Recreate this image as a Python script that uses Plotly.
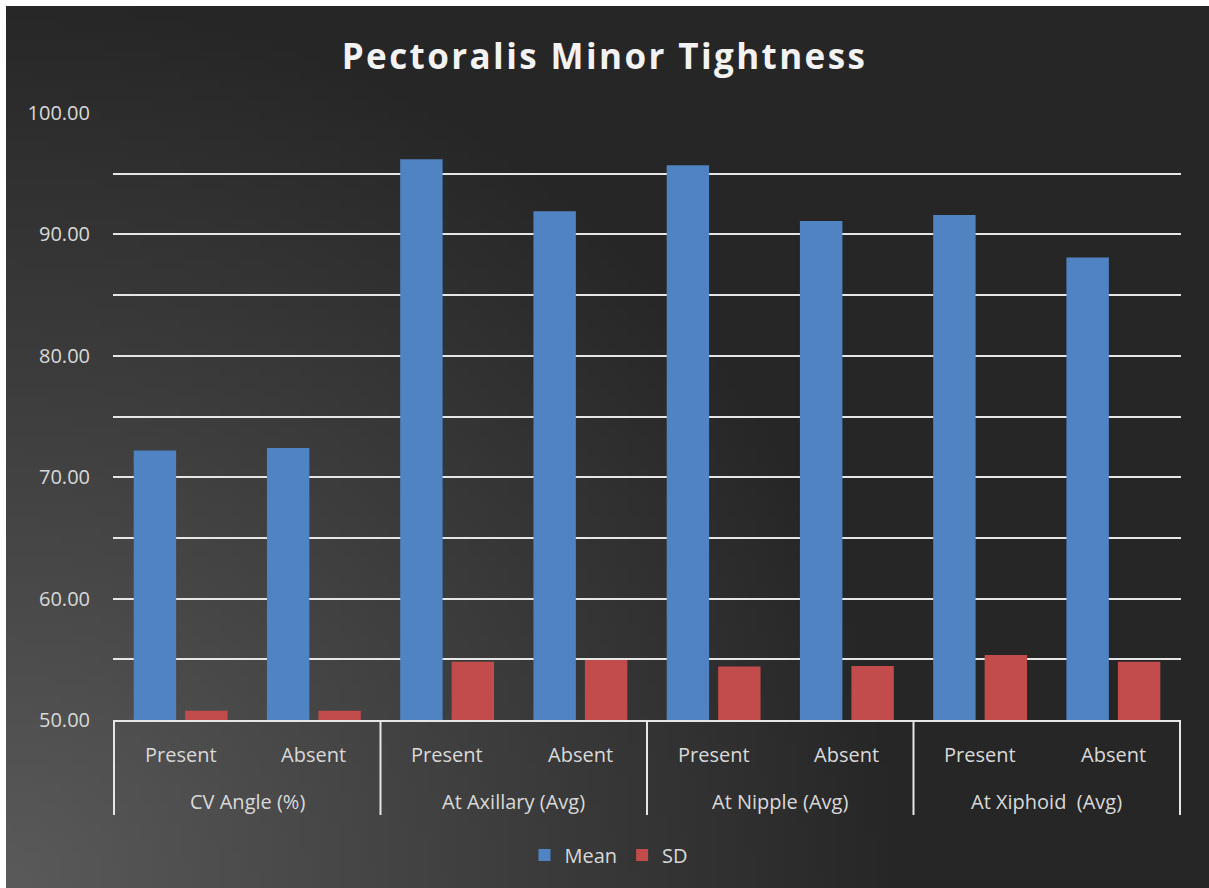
import zlib, struct, base64, math
import plotly.graph_objects as go

# ---- data ----
groups = ["CV Angle (%)", "At Axillary (Avg)", "At Nipple (Avg)", "At Xiphoid\u00a0 (Avg)"]
subgroups = ["Present", "Absent"]
mean_values = [72.2, 72.4, 96.2, 91.9, 95.7, 91.1, 91.6, 88.1]
sd_values = [50.77, 50.77, 54.8, 54.95, 54.4, 54.45, 55.35, 54.8]
y_ticks = [50, 60, 70, 80, 90, 100]

x_level0 = [g for g in groups for _ in subgroups]
x_level1 = [s for _ in groups for s in subgroups]

# ---- background gradient image ----
def make_png(w, h, fn):
    rows = []
    for yy in range(h):
        row = bytearray([0])
        for xx in range(w):
            row.extend(fn(xx, yy))
        rows.append(bytes(row))
    raw = b"".join(rows)
    def chunk(t, d):
        c = struct.pack(">I", len(d)) + t + d
        return c + struct.pack(">I", zlib.crc32(t + d) & 0xFFFFFFFF)
    png = (b"\x89PNG\r\n\x1a\n"
           + chunk(b"IHDR", struct.pack(">IIBBBBB", w, h, 8, 2, 0, 0, 0))
           + chunk(b"IDAT", zlib.compress(raw))
           + chunk(b"IEND", b""))
    return "data:image/png;base64," + base64.b64encode(png).decode()

IW, IH = 121, 89
def grad(xx, yy):
    dx = xx * 1203 / (IW - 1)
    dy = (IH - 1 - yy) * 882 / (IH - 1)
    d = math.hypot(dx, dy)
    t = min(d / 900.0, 1.0)
    v = int(round(0x5a - (0x5a - 0x26) * t))
    return (v, v, v)

bg_src = make_png(IW, IH, grad)

# ---- geometry ----
W, H = 1209, 888
L, R, T, B = 113, 28, 113, 168
PW, PH = W - L - R, H - T - B

def px(xp):
    return (xp - L) / PW
def py(yp):
    return (H - B - yp) / PH

FONT = "Open Sans"
LABEL = "#d9d9d9"
LINE = "#e6e6e6"

fig = go.Figure()
fig.add_trace(go.Bar(name="Mean", x=[x_level0, x_level1], y=mean_values,
                     marker=dict(color="#5083c2", line=dict(width=0))))
fig.add_trace(go.Bar(name="SD", x=[x_level0, x_level1], y=sd_values,
                     marker=dict(color="#c24b4b", line=dict(width=0))))

annotations = []
for i, s in enumerate(x_level1):
    annotations.append(dict(x=i, xref="x", y=py(754), yref="paper", text=s,
                            showarrow=False, xanchor="center", yanchor="middle",
                            font=dict(family=FONT, size=20, color=LABEL)))
for gi, g in enumerate(groups):
    annotations.append(dict(x=gi * len(subgroups) + (len(subgroups) - 1) / 2, xref="x",
                            y=py(801), yref="paper", text=g,
                            showarrow=False, xanchor="center", yanchor="middle",
                            font=dict(family=FONT, size=20, color=LABEL)))

shapes = []
for gi in range(len(groups) + 1):
    xd = gi * len(subgroups) - 0.5
    shapes.append(dict(type="line", xref="x", yref="paper", x0=xd, x1=xd,
                       y0=0, y1=py(815), line=dict(color=LINE, width=2)))

fig.update_layout(
    width=W, height=H,
    margin=dict(l=L, r=R, t=T, b=B, pad=0),
    paper_bgcolor="white",
    plot_bgcolor="rgba(0,0,0,0)",
    barmode="group",
    bargap=0.228,
    bargroupgap=0.175,
    hovermode=False,
    font=dict(family=FONT, size=20, color=LABEL),
    title=dict(text="<b><span style='letter-spacing:2.4px'>Pectoralis Minor Tightness</span></b>",
               x=0.5, xanchor="center", y=1 - 57 / H, yanchor="middle",
               font=dict(family=FONT, size=35, color="#f2f2f2")),
    legend=dict(orientation="h", x=px(609), xanchor="center", y=py(855), yanchor="middle",
                font=dict(family=FONT, size=20, color=LABEL), bgcolor="rgba(0,0,0,0)",
                itemwidth=30, tracegroupgap=0),
    images=[dict(source=bg_src, xref="paper", yref="paper", x=px(6), y=py(6),
                 sizex=(W - 6) / PW, sizey=(H - 6) / PH, sizing="stretch",
                 layer="below", xanchor="left", yanchor="top")],
    annotations=annotations,
    shapes=shapes,
)

fig.update_yaxes(
    range=[50, 100], tickvals=y_ticks, tickformat=".2f",
    showgrid=True, gridcolor=LINE, gridwidth=2,
    minor=dict(dtick=5, showgrid=True, gridcolor=LINE, gridwidth=2),
    zeroline=False, showline=False, ticks="", ticklabelstandoff=22,
    tickfont=dict(family=FONT, size=20, color=LABEL),
)
fig.update_xaxes(
    type="multicategory", showline=True, linecolor=LINE, linewidth=2,
    showgrid=False, ticks="", showticklabels=False, showdividers=False,
)

fig.write_html("out.html")
